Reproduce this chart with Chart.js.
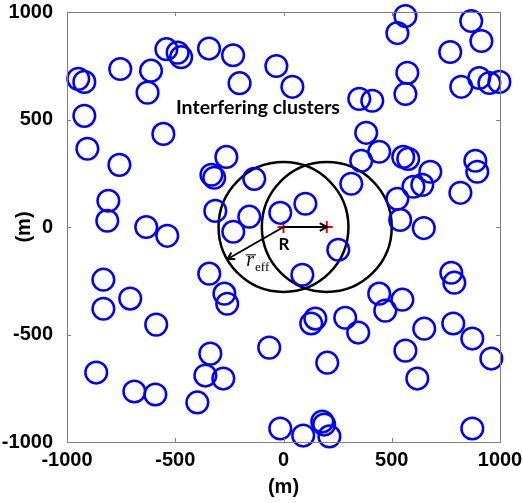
<!DOCTYPE html>
<html><head><meta charset="utf-8">
<script src="https://cdn.jsdelivr.net/npm/chart.js@4.4.1/dist/chart.umd.min.js"></script>
<style>html,body{margin:0;padding:0;background:#fff}#wrap{width:523px;height:503px}</style>
</head><body><div id="wrap"><canvas id="c" width="523" height="503"></canvas></div>
<script>
// ---- data (metres) ----
const clusterX = [-948,-920,-754,-612,-628,-541,-489,-473,-344,-233,-203,-33,41,526,563,770,867,914,572,563,821,904,951,997,350,410,
  382,442,359,313,553,576,678,641,600,886,895,817,526,539,648,101,
  253,87,775,789,442,549,470,147,128,285,345,650,784,872,960,563,202,618,-15,91,179,188,212,872,
  -832,-708,-832,-588,-343,-273,-260,-338,-361,-278,-865,-689,-592,-398,-66,
  -920,-555,-906,-758,-264,-333,-320,-135,-809,-814,-315,-158,-15,-634,-537,-232];
const clusterY = [689,675,735,727,625,827,811,790,830,799,669,749,652,902,981,814,958,865,717,619,652,693,670,675,596,587,
  438,350,308,201,326,317,257,196,187,308,257,159,131,33,-5,108,
  -106,-222,-213,-259,-310,-338,-389,-426,-449,-422,-491,-473,-449,-519,-612,-575,-631,-705,-937,-970,-905,-919,-974,-937,
  -245,-333,-380,-454,-217,-310,-357,-589,-691,-705,-677,-765,-779,-816,-561,
  517,433,364,289,326,243,229,224,122,29,75,48,66,0,-41,-22];
const clusterRadius = 50;
const cellX = [0, 200];
const cellY = [0, 0];
const cellRadius = 300;
const arrowStartX = [0, 0];
const arrowStartY = [0, 0];
const arrowEndX = [200, -260];
const arrowEndY = [0, -150];
const tickValues = [-1000, -500, 0, 500, 1000];
const axisTitle = '(m)';

const toPts = (xs, ys) => xs.map((x, i) => ({x, y: ys[i]}));
const radiusPx = (m) => (c) => {
  const s = c.chart.scales.x;
  return Math.abs(s.getPixelForValue(m) - s.getPixelForValue(0));
};
const FONT = '"Liberation Sans", Arial, sans-serif';

const decor = {
  id: 'decor',
  afterDatasetsDraw(chart) {
    const {ctx, chartArea: a, scales: {x, y}} = chart;
    ctx.save();
    // box
    ctx.strokeStyle = '#808080';
    ctx.lineWidth = 1;
    ctx.strokeRect(Math.round(a.left) + 0.5, Math.round(a.top) + 0.5, Math.round(a.right - a.left), Math.round(a.bottom - a.top));
    // inner ticks on all sides
    const tl = 4;
    ctx.beginPath();
    tickValues.forEach(v => {
      const px = Math.round(x.getPixelForValue(v)) + 0.5;
      ctx.moveTo(px, a.bottom); ctx.lineTo(px, a.bottom - tl);
      ctx.moveTo(px, a.top); ctx.lineTo(px, a.top + tl);
      const py = Math.round(y.getPixelForValue(v)) + 0.5;
      ctx.moveTo(a.left, py); ctx.lineTo(a.left + tl, py);
      ctx.moveTo(a.right, py); ctx.lineTo(a.right - tl, py);
    });
    ctx.stroke();
    // arrows
    ctx.strokeStyle = '#000';
    ctx.lineWidth = 2;
    arrowStartX.forEach((sx, i) => {
      const x0 = x.getPixelForValue(sx), y0 = y.getPixelForValue(arrowStartY[i]);
      const x1 = x.getPixelForValue(arrowEndX[i]), y1 = y.getPixelForValue(arrowEndY[i]);
      const ang = Math.atan2(y1 - y0, x1 - x0);
      const h = 8, sp = 0.5;
      ctx.beginPath();
      ctx.moveTo(x0, y0); ctx.lineTo(x1, y1);
      ctx.moveTo(x1 - h * Math.cos(ang - sp), y1 - h * Math.sin(ang - sp));
      ctx.lineTo(x1, y1);
      ctx.lineTo(x1 - h * Math.cos(ang + sp), y1 - h * Math.sin(ang + sp));
      ctx.stroke();
    });
    // texts
    ctx.fillStyle = '#000';
    ctx.textAlign = 'center';
    ctx.textBaseline = 'middle';
    ctx.font = 'bold 19.5px Lato';
    ctx.fillText('Interfering clusters', x.getPixelForValue(-118), y.getPixelForValue(554));
    ctx.font = 'bold 17px Lato';
    ctx.fillText('R', x.getPixelForValue(2), y.getPixelForValue(-82));
    // r_eff with overline
    const rx = x.getPixelForValue(-172), ry = y.getPixelForValue(-183);
    ctx.textAlign = 'left';
    ctx.textBaseline = 'alphabetic';
    ctx.font = 'italic 20px "Liberation Serif"';
    const rw = ctx.measureText('r').width;
    ctx.fillText('r', rx, ry);
    ctx.lineWidth = 1;
    ctx.beginPath();
    ctx.moveTo(rx - 0.5, ry - 11.5); ctx.lineTo(rx + rw + 2, ry - 11.5);
    ctx.stroke();
    ctx.font = '13px "Liberation Serif"';
    ctx.fillText('eff', rx + rw + 1, ry + 5);
    ctx.restore();
  }
};

new Chart(document.getElementById('c'), {
  type: 'scatter',
  data: {
    datasets: [
      { data: toPts(clusterX, clusterY), pointStyle: 'circle', backgroundColor: 'rgba(0,0,0,0)',
        borderColor: '#0000ff', pointBorderWidth: 2.5, pointRadius: radiusPx(clusterRadius), clip: false },
      { data: toPts(cellX, cellY), pointStyle: 'circle', backgroundColor: 'rgba(0,0,0,0)',
        borderColor: '#000', pointBorderWidth: 2.5, pointRadius: radiusPx(cellRadius), clip: false },
      { data: toPts(cellX, cellY), pointStyle: 'cross', borderColor: '#ff0000',
        pointBorderWidth: 2, pointRadius: 6, clip: false }
    ]
  },
  options: {
    responsive: false, animation: false, devicePixelRatio: 1, events: [],
    layout: { padding: { top: 12, right: 23, left: 0, bottom: 0 } },
    plugins: { legend: { display: false }, tooltip: { enabled: false } },
    scales: {
      x: {
        type: 'linear', min: -1000, max: 1000,
        afterBuildTicks: s => { s.ticks = tickValues.map(v => ({value: v})); },
        afterFit: s => { s.height = 61; s.paddingLeft = 0; s.paddingRight = 0; },
        grid: { display: false }, border: { display: false },
        ticks: { color: '#000', padding: -2, maxRotation: 0, callback: v => String(v),
          font: { family: FONT, size: 20, weight: 'bold' } },
        title: { display: true, text: axisTitle, color: '#000', padding: { top: 0, bottom: 4 },
          font: { family: FONT, size: 20, weight: 'bold' } }
      },
      y: {
        type: 'linear', min: -1000, max: 1000,
        afterBuildTicks: s => { s.ticks = tickValues.map(v => ({value: v})); },
        afterFit: s => { s.width = 67; s.paddingTop = 0; s.paddingBottom = 0; },
        grid: { display: false }, border: { display: false },
        ticks: { color: '#000', padding: 6, callback: v => String(v),
          font: { family: FONT, size: 20, weight: 'bold' } },
        title: { display: true, text: axisTitle, color: '#000', padding: { top: 12, bottom: 0 },
          font: { family: FONT, size: 20, weight: 'bold' } }
      }
    }
  },
  plugins: [decor]
});
</script>
</body></html>
